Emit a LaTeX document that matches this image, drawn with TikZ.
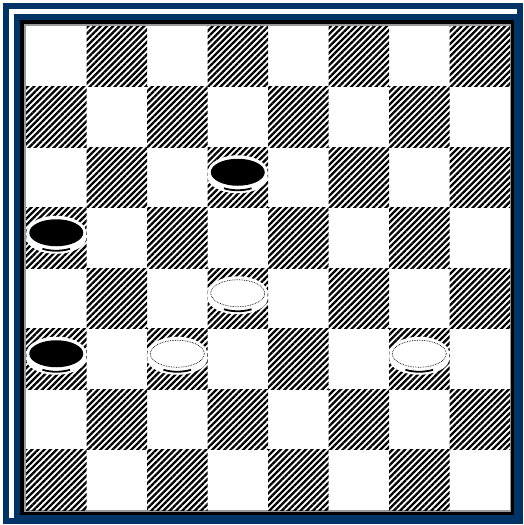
\documentclass[tikz,border=0pt]{standalone}
\usepackage{xcolor}
\usepackage{tikz}
\usetikzlibrary{patterns.meta}
\definecolor{navy}{HTML}{003366}
\definecolor{edgegrey}{HTML}{9A9A9A}

\begin{document}
\begin{tikzpicture}[
  x=1pt, y=-1pt,
  navyline/.style={draw=navy, line width=6pt},
  darksq/.style={pattern={Lines[angle=45, distance=4.4pt, line width=2.3pt]}, pattern color=black},
  halo/.style={fill=white},
  rim/.style={fill=white},
  rimedge/.style={draw=black, line width=1.8pt},
  blackman/.style={fill=black},
  whiteman/.style={fill=white, draw=black, line width=0.7pt, densely dotted}
]
\useasboundingbox (0,0) rectangle (524,525);
\fill[white] (0,0) rectangle (524,525);
% frame
\draw[navyline] (6,6) rectangle (520,521);
\fill[navy] (14,14) rectangle (521,522);
\fill[black] (20,20) rectangle (514,515);
\fill[edgegrey] (24,24) rectangle (511,512);
\fill[white] (26,26) rectangle (510,510);
% board
\foreach \row in {0,...,7}
  \foreach \col in {0,...,7} {
    \pgfmathtruncatemacro{\odd}{mod(\row+\col,2)}
    \ifnum\odd=1
      \fill[darksq] ({26+60.5*\col},{26+60.5*\row}) rectangle ++(60.5,60.5);
    \fi
  }
% men
\foreach \col/\row/\man in {3/2/blackman, 0/3/blackman, 3/4/whiteman, 0/5/blackman, 2/5/whiteman, 6/5/whiteman} {
  \coordinate (sq) at ({26+60.5*(\col+0.5)},{26+60.5*(\row+0.5)});
  \fill[halo] ([yshift=5pt]sq) ellipse (30pt and 17pt);
  \fill[halo] (sq) ellipse (30pt and 16pt);
  \fill[rim] (sq) ellipse (26pt and 13pt);
  \draw[rimedge] (sq) ++(-122:26pt and 13pt) arc[start angle=-122, end angle=-58, x radius=26pt, y radius=13pt];
  \path[\man] ([yshift=5pt]sq) ellipse (27pt and 13.5pt);
}
\end{tikzpicture}
\end{document}
